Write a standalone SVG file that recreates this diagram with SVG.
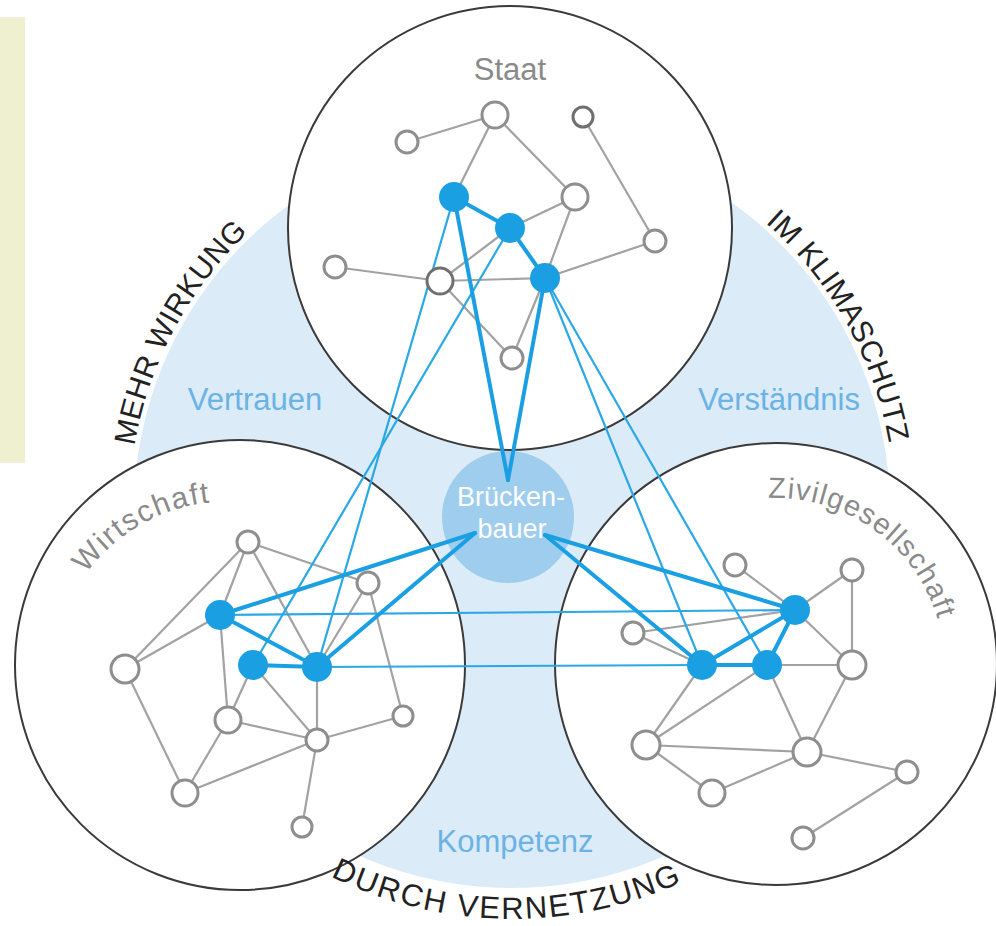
<svg xmlns="http://www.w3.org/2000/svg" width="996" height="926" viewBox="0 0 996 926">
<style>
.bg{fill:#ffffff}
.shade{fill:#dcebf8}
.sector{fill:#ffffff;stroke:#3a3a3a;stroke-width:2}
.g{stroke:#a2a2a2;stroke-width:2.2;fill:none}
.bt{stroke:#1b9fe3;stroke-width:4;fill:none;stroke-linecap:round}
.bn{stroke:#2aa8e6;stroke-width:2.2;fill:none}
.on{fill:#ffffff;stroke:#8e8e8e;stroke-width:3}
.fn{fill:#1b9fe3}
.lbl{font-family:"Liberation Sans",Arial,sans-serif;fill:#8a8a8a}
.val{font-family:"Liberation Sans",Arial,sans-serif;fill:#6ab3e4;font-size:31px;text-anchor:middle}
.arc{font-family:"Liberation Sans",Arial,sans-serif;fill:#222222}
.bb{font-family:"Liberation Sans",Arial,sans-serif;fill:#ffffff;font-size:27px;text-anchor:middle}
</style>
<defs>
<path id="pMehr" d="M134.4,446.1 A383,383 0 0 1 320.5,178.3"/>
<path id="pKlima" d="M765.3,222.7 A383,383 0 0 1 893.5,476.6"/>
<path id="pDurch" d="M330.6,876.3 A409,409 0 0 0 716.5,864.2"/>
<path id="pWirt" d="M86,574 A175,175 0 0 1 214,502"/>
<path id="pZivil" d="M768,498 A170,170 0 0 1 940,628"/>
</defs>
<rect class="bg" x="0" y="0" width="996" height="926"/>
<rect x="0" y="17" width="25" height="446" fill="#eff0cf"/>
<circle class="shade" cx="512" cy="510" r="378"/>
<g id="staat"><circle class="sector" cx="510" cy="228" r="222"/><text class="lbl" x="510" y="80" font-size="31" text-anchor="middle">Staat</text></g>
<g id="wirtschaft"><circle class="sector" cx="240" cy="665" r="225"/><text class="lbl" font-size="30" letter-spacing="1.5"><textPath href="#pWirt">Wirtschaft</textPath></text></g>
<g id="zivilgesellschaft"><circle class="sector" cx="776" cy="664" r="221"/><text class="lbl" font-size="29" letter-spacing="1.2"><textPath href="#pZivil">Zivilgesellschaft</textPath></text></g>
<g id="brueckenbauer-bg"><circle cx="508" cy="517" r="66" fill="#9fcdee"/></g>
<g id="labels">
<text class="val" x="255" y="410">Vertrauen</text>
<text class="val" x="779" y="410">Verständnis</text>
<text class="val" x="515" y="852">Kompetenz</text>
<text class="arc" font-size="30" letter-spacing="0.4"><textPath href="#pMehr">MEHR WIRKUNG</textPath></text>
<text class="arc" font-size="30" letter-spacing="0.3"><textPath href="#pKlima">IM KLIMASCHUTZ</textPath></text>
<text class="arc" font-size="31" letter-spacing="1.9"><textPath href="#pDurch">DURCH VERNETZUNG</textPath></text>
</g>
<g id="connectors">
<g id="gray-edges">
<line class="g" x1="407" y1="142" x2="495" y2="115"/>
<line class="g" x1="495" y1="115" x2="454" y2="197"/>
<line class="g" x1="495" y1="115" x2="575" y2="197"/>
<line class="g" x1="583" y1="117" x2="655" y2="241"/>
<line class="g" x1="510" y1="228" x2="575" y2="197"/>
<line class="g" x1="575" y1="197" x2="545" y2="278"/>
<line class="g" x1="545" y1="278" x2="512" y2="358"/>
<line class="g" x1="545" y1="278" x2="655" y2="241"/>
<line class="g" x1="335" y1="267" x2="440" y2="281"/>
<line class="g" x1="440" y1="281" x2="545" y2="278"/>
<line class="g" x1="440" y1="281" x2="510" y2="228"/>
<line class="g" x1="440" y1="281" x2="512" y2="358"/>
<line class="g" x1="248" y1="542" x2="125" y2="669"/>
<line class="g" x1="248" y1="542" x2="368" y2="583"/>
<line class="g" x1="248" y1="542" x2="220" y2="615"/>
<line class="g" x1="248" y1="542" x2="317" y2="667"/>
<line class="g" x1="220" y1="615" x2="125" y2="669"/>
<line class="g" x1="220" y1="615" x2="228" y2="720"/>
<line class="g" x1="253" y1="665" x2="228" y2="720"/>
<line class="g" x1="253" y1="665" x2="317" y2="740"/>
<line class="g" x1="125" y1="669" x2="185" y2="793"/>
<line class="g" x1="228" y1="720" x2="185" y2="793"/>
<line class="g" x1="228" y1="720" x2="317" y2="740"/>
<line class="g" x1="185" y1="793" x2="317" y2="740"/>
<line class="g" x1="317" y1="740" x2="403" y2="716"/>
<line class="g" x1="317" y1="740" x2="302" y2="827"/>
<line class="g" x1="317" y1="667" x2="317" y2="740"/>
<line class="g" x1="368" y1="583" x2="317" y2="667"/>
<line class="g" x1="368" y1="583" x2="403" y2="716"/>
<line class="g" x1="735" y1="565" x2="795" y2="610"/>
<line class="g" x1="852" y1="570" x2="795" y2="610"/>
<line class="g" x1="852" y1="570" x2="852" y2="665"/>
<line class="g" x1="633" y1="633" x2="795" y2="610"/>
<line class="g" x1="633" y1="633" x2="702" y2="665"/>
<line class="g" x1="795" y1="610" x2="852" y2="665"/>
<line class="g" x1="767" y1="665" x2="852" y2="665"/>
<line class="g" x1="702" y1="665" x2="646" y2="745"/>
<line class="g" x1="767" y1="665" x2="646" y2="745"/>
<line class="g" x1="767" y1="665" x2="807" y2="752"/>
<line class="g" x1="852" y1="665" x2="807" y2="752"/>
<line class="g" x1="646" y1="745" x2="807" y2="752"/>
<line class="g" x1="646" y1="745" x2="712" y2="793"/>
<line class="g" x1="712" y1="793" x2="807" y2="752"/>
<line class="g" x1="807" y1="752" x2="907" y2="772"/>
<line class="g" x1="907" y1="772" x2="803" y2="838"/>
</g>
<g id="blue-thin">
<line class="bn" x1="454" y1="197" x2="317" y2="667"/>
<line class="bn" x1="510" y1="228" x2="253" y2="665"/>
<line class="bn" x1="545" y1="278" x2="702" y2="665"/>
<line class="bn" x1="545" y1="278" x2="767" y2="665"/>
<line class="bn" x1="220" y1="615" x2="795" y2="610"/>
<line class="bn" x1="317" y1="667" x2="702" y2="665"/>
</g>
<g id="blue-thick">
<line class="bt" x1="454" y1="197" x2="510" y2="228"/>
<line class="bt" x1="510" y1="228" x2="545" y2="278"/>
<line class="bt" x1="454" y1="197" x2="508" y2="480"/>
<line class="bt" x1="545" y1="278" x2="508" y2="480"/>
<line class="bt" x1="220" y1="615" x2="317" y2="667"/>
<line class="bt" x1="253" y1="665" x2="317" y2="667"/>
<line class="bt" x1="220" y1="615" x2="475" y2="533"/>
<line class="bt" x1="317" y1="667" x2="475" y2="533"/>
<line class="bt" x1="545" y1="535" x2="795" y2="610"/>
<line class="bt" x1="545" y1="535" x2="702" y2="665"/>
<line class="bt" x1="702" y1="665" x2="767" y2="665"/>
<line class="bt" x1="702" y1="665" x2="795" y2="610"/>
<line class="bt" x1="767" y1="665" x2="795" y2="610"/>
</g>
</g>
<g id="brueckenbauer"><text class="bb" x="511" y="506">Brücken-</text><text class="bb" x="512" y="538">bauer</text></g>
<g id="staat-nodes">
<circle id="t1" class="on" cx="495" cy="115" r="13"/>
<circle id="t2" class="on" cx="407" cy="142" r="11"/>
<circle id="t3" class="on" cx="583" cy="117" r="10" style="stroke:#6f6f6f"/>
<circle id="t4" class="fn" cx="454" cy="197" r="15"/>
<circle id="t5" class="fn" cx="510" cy="228" r="15"/>
<circle id="t6" class="on" cx="575" cy="197" r="13"/>
<circle id="t7" class="on" cx="655" cy="241" r="11"/>
<circle id="t8" class="on" cx="335" cy="267" r="11"/>
<circle id="t9" class="on" cx="440" cy="281" r="13" style="stroke:#707070"/>
<circle id="t10" class="fn" cx="545" cy="278" r="15"/>
<circle id="t11" class="on" cx="512" cy="358" r="11"/>
</g>
<g id="wirtschaft-nodes">
<circle id="w1" class="fn" cx="220" cy="615" r="15"/>
<circle id="w2" class="fn" cx="253" cy="665" r="15"/>
<circle id="w3" class="fn" cx="317" cy="667" r="15"/>
<circle id="l1" class="on" cx="248" cy="542" r="11"/>
<circle id="l2" class="on" cx="368" cy="583" r="11"/>
<circle id="l3" class="on" cx="125" cy="669" r="14"/>
<circle id="l4" class="on" cx="228" cy="720" r="13"/>
<circle id="l5" class="on" cx="317" cy="740" r="11"/>
<circle id="l6" class="on" cx="403" cy="716" r="10"/>
<circle id="l7" class="on" cx="185" cy="793" r="13"/>
<circle id="l8" class="on" cx="302" cy="827" r="10"/>
</g>
<g id="zivil-nodes">
<circle id="z1" class="fn" cx="795" cy="610" r="15"/>
<circle id="z2" class="fn" cx="702" cy="665" r="15"/>
<circle id="z3" class="fn" cx="767" cy="665" r="15"/>
<circle id="r1" class="on" cx="735" cy="565" r="11"/>
<circle id="r2" class="on" cx="852" cy="570" r="11"/>
<circle id="r3" class="on" cx="633" cy="633" r="11"/>
<circle id="r4" class="on" cx="852" cy="665" r="14"/>
<circle id="r5" class="on" cx="646" cy="745" r="14"/>
<circle id="r6" class="on" cx="807" cy="752" r="14"/>
<circle id="r7" class="on" cx="907" cy="772" r="11"/>
<circle id="r8" class="on" cx="712" cy="793" r="13"/>
<circle id="r9" class="on" cx="803" cy="838" r="11"/>
</g>
</svg>
